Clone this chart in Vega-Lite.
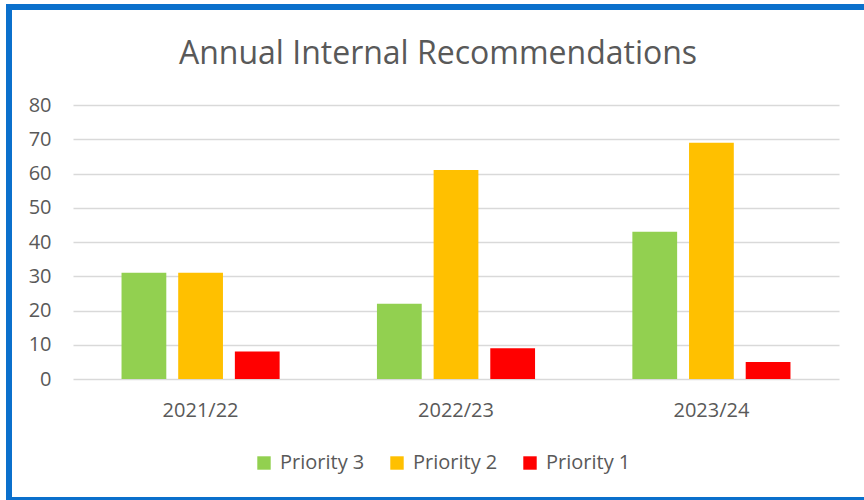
{
  "$schema": "https://vega.github.io/schema/vega-lite/v6.json",
  "width": 858,
  "height": 493,
  "autosize": {"type": "none"},
  "padding": {"left": 9, "top": 7, "right": -3, "bottom": 0},
  "background": "white",
  "config": {
    "view": {"stroke": "#0b70cc", "strokeWidth": 6, "fill": "white"},
    "font": "Open Sans"
  },
  "title": {
    "text": "Annual Internal Recommendations",
    "anchor": "middle",
    "frame": "group",
    "offset": -64,
    "fontSize": 32,
    "font": "Open Sans",
    "fontWeight": "normal",
    "color": "#595959"
  },
  "data": {
    "values": [
      {"year": "2021/22", "priority": "Priority 3", "value": 31},
      {"year": "2021/22", "priority": "Priority 2", "value": 31},
      {"year": "2021/22", "priority": "Priority 1", "value": 8},
      {"year": "2022/23", "priority": "Priority 3", "value": 22},
      {"year": "2022/23", "priority": "Priority 2", "value": 61},
      {"year": "2022/23", "priority": "Priority 1", "value": 9},
      {"year": "2023/24", "priority": "Priority 3", "value": 43},
      {"year": "2023/24", "priority": "Priority 2", "value": 69},
      {"year": "2023/24", "priority": "Priority 1", "value": 5}
    ]
  },
  "mark": {"type": "bar"},
  "encoding": {
    "x": {
      "field": "year",
      "type": "nominal",
      "scale": {"range": [64, 830], "paddingInner": 0.381, "paddingOuter": 0.19},
      "axis": {
        "title": null,
        "orient": "bottom",
        "offset": -90,
        "labelAngle": 0,
        "labelBaseline": "middle",
        "labelPadding": 0,
        "ticks": false,
        "tickSize": 0,
        "domain": false,
        "grid": false,
        "labelFont": "Open Sans",
        "labelFontSize": 20,
        "labelColor": "#595959"
      }
    },
    "xOffset": {
      "field": "priority",
      "type": "nominal",
      "sort": ["Priority 3", "Priority 2", "Priority 1"],
      "scale": {"paddingInner": 0.21, "paddingOuter": 0}
    },
    "y": {
      "field": "value",
      "type": "quantitative",
      "scale": {"domain": [0, 80], "range": [372, 98], "nice": false},
      "axis": {
        "title": null,
        "values": [0, 10, 20, 30, 40, 50, 60, 70, 80],
        "offset": -42,
        "ticks": false,
        "tickSize": 0,
        "labelPadding": 0,
        "domain": false,
        "grid": true,
        "gridColor": "#d9d9d9",
        "gridWidth": 1.5,
        "labelFont": "Open Sans",
        "labelFontSize": 20,
        "labelColor": "#595959"
      }
    },
    "color": {
      "field": "priority",
      "type": "nominal",
      "scale": {
        "domain": ["Priority 3", "Priority 2", "Priority 1"],
        "range": ["#92d050", "#ffc000", "#ff0000"]
      },
      "legend": {
        "title": null,
        "orient": "none",
        "legendX": 245,
        "legendY": 446,
        "direction": "horizontal",
        "symbolType": "square",
        "symbolSize": 180,
        "symbolStrokeWidth": 0,
        "symbolOpacity": 1,
        "labelFont": "Open Sans",
        "labelFontSize": 20,
        "labelColor": "#595959",
        "labelOffset": 6,
        "columnPadding": 22,
        "padding": 0
      }
    }
  }
}
